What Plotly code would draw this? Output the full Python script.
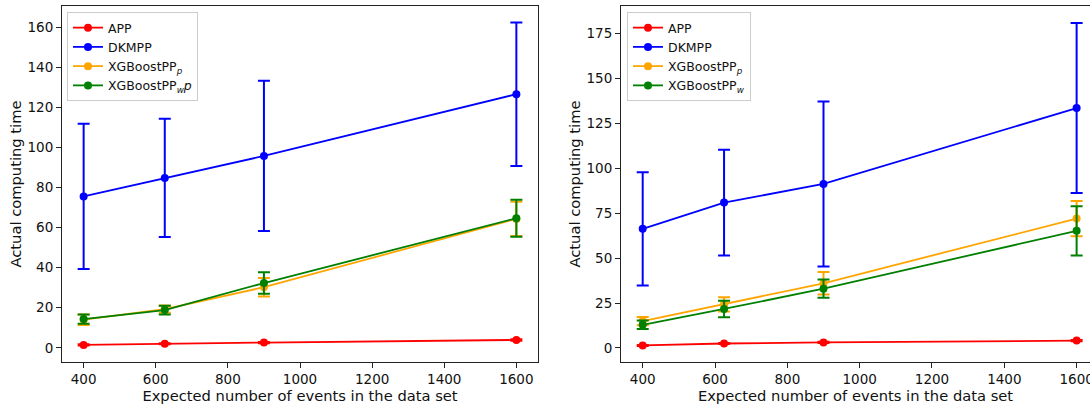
import plotly.graph_objects as go

x_events = [400, 625, 900, 1600]

# Left panel
app_l = [1.4, 2.0, 2.6, 3.9]
app_l_err = [0.3, 0.3, 0.3, 0.4]
dkmpp_l = [75.5, 84.7, 95.7, 126.5]
dkmpp_l_err = [36.2, 29.5, 37.5, 35.8]
xgbp_l = [14.0, 19.3, 30.2, 64.3]
xgbp_l_err = [2.6, 1.8, 4.6, 8.6]
xgbwp_l = [14.3, 18.8, 32.3, 64.6]
xgbwp_l_err = [2.3, 2.2, 5.4, 9.2]

# Right panel
app_r = [1.4, 2.5, 3.1, 4.1]
app_r_err = [0.3, 0.3, 0.3, 0.4]
dkmpp_r = [66.3, 80.9, 91.3, 133.5]
dkmpp_r_err = [31.5, 29.4, 45.9, 47.3]
xgbp_r = [15.0, 24.3, 36.0, 72.0]
xgbp_r_err = [2.3, 4.0, 6.3, 9.8]
xgbw_r = [12.9, 21.7, 33.0, 65.2]
xgbw_r_err = [2.4, 4.6, 5.1, 13.7]

x_ticks = [400, 600, 800, 1000, 1200, 1400, 1600]
y_ticks_l = [0, 20, 40, 60, 80, 100, 120, 140, 160]
y_ticks_r = [0, 25, 50, 75, 100, 125, 150, 175]

RED = "#ff0000"
BLUE = "#0000ff"
ORANGE = "#ffa500"
GREEN = "#008000"
FONT = "DejaVu Sans"

fig = go.Figure()

def add(y, err, color, name, xa, ya, legend):
    fig.add_trace(go.Scatter(
        x=x_events, y=y, mode="lines+markers", name=name,
        line=dict(color=color, width=1.8),
        marker=dict(color=color, size=8),
        error_y=dict(type="data", array=err, visible=True, color=color,
                     thickness=2, width=6),
        xaxis=xa, yaxis=ya, legend=legend,
    ))

add(app_l, app_l_err, RED, "APP", "x", "y", "legend")
add(dkmpp_l, dkmpp_l_err, BLUE, "DKMPP", "x", "y", "legend")
add(xgbp_l, xgbp_l_err, ORANGE, "XGBoostPP<sub><i>p</i></sub>", "x", "y", "legend")
add(xgbwp_l, xgbwp_l_err, GREEN, "XGBoostPP<sub><i>w</i></sub><i>p</i>", "x", "y", "legend")

add(app_r, app_r_err, RED, "APP", "x2", "y2", "legend2")
add(dkmpp_r, dkmpp_r_err, BLUE, "DKMPP", "x2", "y2", "legend2")
add(xgbp_r, xgbp_r_err, ORANGE, "XGBoostPP<sub><i>p</i></sub>", "x2", "y2", "legend2")
add(xgbw_r, xgbw_r_err, GREEN, "XGBoostPP<sub><i>w</i></sub>", "x2", "y2", "legend2")

axis_common = dict(
    showgrid=False, zeroline=False, showline=True, linecolor="#222",
    linewidth=1, ticks="outside", ticklen=5, tickcolor="#222",
    tickfont=dict(family=FONT, size=13.5, color="#111"),
    automargin=False, ticklabeloverflow="allow",
)

xl0, xl1 = 62 / 1090, 538 / 1090
xr0 = 621 / 1090
TITLE_FONT = dict(family=FONT, size=14.7, color="#111")
LEG_FONT = dict(family=FONT, size=12.5, color="#111")

fig.update_layout(
    width=1090, height=404,
    margin=dict(l=0, r=0, t=6, b=42, autoexpand=False),
    paper_bgcolor="white", plot_bgcolor="white",
    font=dict(family=FONT, size=13.5, color="#111"),
    xaxis=dict(domain=[xl0, xl1], range=[340, 1660], tickvals=x_ticks,
               mirror=True, anchor="y",
               title=dict(text="Expected number of events in the data set",
                          font=TITLE_FONT, standoff=0),
               **axis_common),
    yaxis=dict(domain=[0, 1], range=[-7.1, 170.5], tickvals=y_ticks_l,
               mirror=True, anchor="x",
               title=dict(text="Actual computing time",
                          font=TITLE_FONT, standoff=2),
               **axis_common),
    xaxis2=dict(domain=[xr0, 1.0], range=[340, 1637], tickvals=x_ticks,
                mirror=True, anchor="y2",
                title=dict(text="Expected number of events in the data set",
                           font=TITLE_FONT, standoff=0),
                **axis_common),
    yaxis2=dict(domain=[0, 1], range=[-7.8, 190.3], tickvals=y_ticks_r,
                mirror=False, anchor="x2",
                title=dict(text="Actual computing time",
                           font=TITLE_FONT, standoff=2),
                **axis_common),
    legend=dict(x=xl0 + 5 / 1090, y=1 - 6 / 356, xanchor="left", yanchor="top",
                bgcolor="rgba(255,255,255,0.8)", bordercolor="#ccc", borderwidth=1,
                font=LEG_FONT, tracegroupgap=0, itemwidth=30),
    legend2=dict(x=xr0 + 6 / 1090, y=1 - 6 / 356, xanchor="left", yanchor="top",
                 bgcolor="rgba(255,255,255,0.8)", bordercolor="#ccc", borderwidth=1,
                 font=LEG_FONT, tracegroupgap=0, itemwidth=30),
    showlegend=True,
)

fig.write_html(
    "out.html",
    config={"displayModeBar": False},
    post_script="document.body.style.margin='0';document.body.style.overflow='hidden';",
)
